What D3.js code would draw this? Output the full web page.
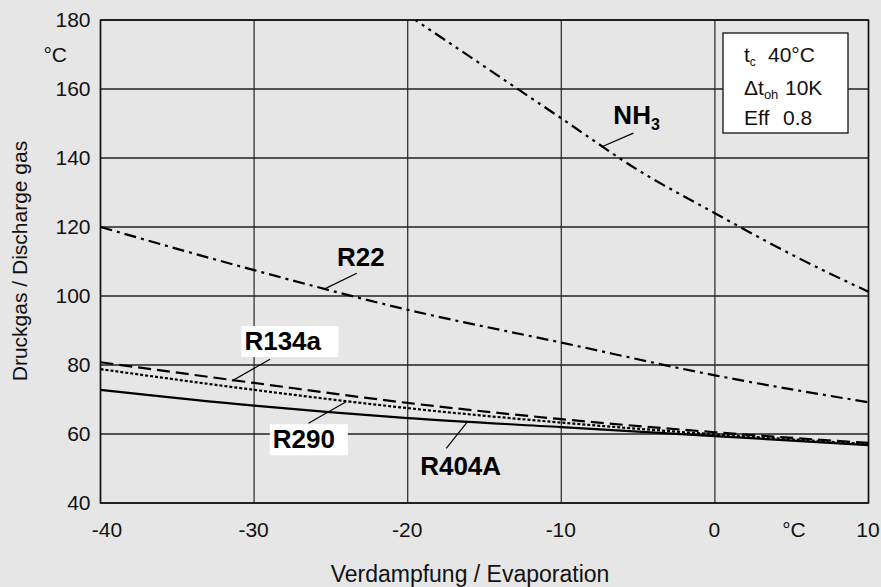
<!DOCTYPE html>
<html>
<head>
<meta charset="utf-8">
<script src="https://cdn.jsdelivr.net/npm/d3@7"></script>
<style>
  html, body { margin: 0; padding: 0; background: #e6e6e6; }
  svg { display: block; font-family: Arial, "Liberation Sans", Helvetica, sans-serif; }
</style>
</head>
<body>
<svg id="chart" width="881" height="587"></svg>
<script>
// ---- data ----
const evapTemps = [-40, -30, -20, -10, 0, 10];
const r134a = [80.8, 74.8, 69.0, 64.3, 60.5, 57.4];
const r290  = [78.8, 72.8, 67.5, 63.3, 59.9, 57.1];
const r404a = [72.8, 68.2, 64.6, 62.0, 59.4, 56.8];
const r22   = [120.0, 107.5, 96.0, 86.5, 77.0, 69.2];
const nh3Temps = [-20, -15, -10, -5, 0, 5, 10];
const nh3   = [181.5, 166.5, 151.5, 136.5, 124.0, 112.0, 101.2];
const xTicks = [-40, -30, -20, -10, 0, 10];
const yTicks = [40, 60, 80, 100, 120, 140, 160, 180];
const xTitle = "Verdampfung / Evaporation";
const yTitle = "Druckgas / Discharge gas";

const W = 881, H = 587;
const m = { left: 100.5, top: 20, right: 12.5, bottom: 84 };
const iw = W - m.left - m.right, ih = H - m.top - m.bottom;

const svg = d3.select("#chart");
svg.append("rect").attr("width", W).attr("height", H).attr("fill", "#e6e6e6");

const x = d3.scaleLinear().domain([-40, 10]).range([0, iw]);
const y = d3.scaleLinear().domain([40, 180]).range([ih, 0]);

const g = svg.append("g").attr("transform", `translate(${m.left},${m.top})`);

g.append("clipPath").attr("id", "clip")
  .append("rect").attr("width", iw).attr("height", ih);

// grid
g.append("g").selectAll("line").data(xTicks).join("line")
  .attr("x1", d => x(d)).attr("x2", d => x(d)).attr("y1", 0).attr("y2", ih)
  .attr("stroke", "#333").attr("stroke-width", 1.3);
g.append("g").selectAll("line").data(yTicks).join("line")
  .attr("y1", d => y(d)).attr("y2", d => y(d)).attr("x1", 0).attr("x2", iw)
  .attr("stroke", "#222").attr("stroke-width", 1.3);
g.append("rect").attr("width", iw).attr("height", ih)
  .attr("fill", "none").attr("stroke", "#111").attr("stroke-width", 1.5);

// axes labels
const fmt = d => String(d);
const xAxis = g.append("g").attr("transform", `translate(0,${ih})`)
  .call(d3.axisBottom(x).tickValues(xTicks).tickSize(0).tickPadding(19).tickFormat(fmt));
xAxis.select(".domain").remove();
xAxis.selectAll("text").attr("font-size", 21).attr("fill", "#111")
  .attr("font-family", "Arial, 'Liberation Sans', sans-serif")
  .attr("dx", d => d === -40 ? 6 : -1);

const yAxis = g.append("g")
  .call(d3.axisLeft(y).tickValues(yTicks).tickSize(0).tickPadding(10).tickFormat(fmt));
yAxis.select(".domain").remove();
yAxis.selectAll("text").attr("font-size", 21).attr("fill", "#111")
  .attr("font-family", "Arial, 'Liberation Sans', sans-serif");

// units
svg.append("text").attr("x", 67).attr("y", 62).attr("text-anchor", "end")
  .attr("font-size", 21).attr("fill", "#111").text("°C");
svg.append("text").attr("x", 794).attr("y", 537).attr("text-anchor", "middle")
  .attr("font-size", 21).attr("fill", "#111").text("°C");

// titles
svg.append("text").attr("x", 470).attr("y", 582).attr("text-anchor", "middle")
  .attr("font-size", 23).attr("fill", "#111").text(xTitle);
svg.append("text").attr("transform", "translate(27,261) rotate(-90)")
  .attr("text-anchor", "middle").attr("font-size", 21).attr("fill", "#111").text(yTitle);

// curves
const plot = g.append("g").attr("clip-path", "url(#clip)");
const line = d3.line().x(d => x(d[0])).y(d => y(d[1])).curve(d3.curveMonotoneX);
const series = [
  { t: evapTemps, v: r404a, dash: null },
  { t: evapTemps, v: r290,  dash: "3,2" },
  { t: evapTemps, v: r134a, dash: "13,6" },
  { t: evapTemps, v: r22,   dash: "12,5,3,5" },
  { t: nh3Temps,  v: nh3,   dash: "12,5,3,5,3,5" }
];
series.forEach(s => {
  plot.append("path")
    .datum(s.t.map((t, i) => [t, s.v[i]]))
    .attr("d", line).attr("fill", "none").attr("stroke", "#000")
    .attr("stroke-width", 2.2)
    .attr("stroke-dasharray", s.dash);
});

// labels with leaders (positions in data units)
function lbl(tx, ty, text, sub, box, l1, l2) {
  const px = m.left + x(tx), py = m.top + y(ty);
  if (box) {
    svg.append("rect").attr("x", px - 3).attr("y", py - 24)
      .attr("width", box).attr("height", 31).attr("fill", "#fff");
  }
  const t = svg.append("text").attr("x", px).attr("y", py)
    .attr("font-size", 26).attr("font-weight", "bold").attr("fill", "#000");
  t.append("tspan").text(text);
  if (sub) t.append("tspan").attr("font-size", 16).attr("dy", 6).text(sub);
  svg.append("line")
    .attr("x1", m.left + x(l1[0])).attr("y1", m.top + y(l1[1]))
    .attr("x2", m.left + x(l2[0])).attr("y2", m.top + y(l2[1]))
    .attr("stroke", "#000").attr("stroke-width", 1.2);
}
lbl(-6.61, 149.9, "NH", "3", null, [-5.31, 147.2], [-7.39, 143.2]);
lbl(-24.6, 108.7, "R22", null, null, [-23.31, 106.6], [-25.44, 102.0]);
lbl(-30.63, 84.35, "R134a", null, 97, [-28.96, 81.65], [-31.45, 75.36]);
lbl(-28.78, 55.86, "R290", null, 78, [-26.46, 63.1], [-24.01, 69.36]);
lbl(-19.19, 48.1, "R404A", null, null, [-17.49, 55.86], [-16.14, 63.4]);

// info box
const bx = 723, by = 33;
svg.append("rect").attr("x", bx).attr("y", by).attr("width", 125).attr("height", 100)
  .attr("fill", "#fff").attr("stroke", "#111").attr("stroke-width", 1.3);
const info = svg.append("g").attr("font-size", 21).attr("fill", "#111");
const l1 = info.append("text").attr("x", 744).attr("y", 62);
l1.append("tspan").text("t");
l1.append("tspan").attr("font-size", 12).attr("dy", 4).text("c");
l1.append("tspan").attr("x", 768).attr("dy", -4).text("40°C");
const l2 = info.append("text").attr("x", 744).attr("y", 95);
l2.append("tspan").text("Δt");
l2.append("tspan").attr("font-size", 13).attr("dy", 4).text("oh");
l2.append("tspan").attr("x", 785).attr("dy", -4).text("10K");
const l3 = info.append("text").attr("x", 744).attr("y", 125);
l3.append("tspan").text("Eff");
l3.append("tspan").attr("x", 783).text("0.8");
</script>
</body>
</html>
